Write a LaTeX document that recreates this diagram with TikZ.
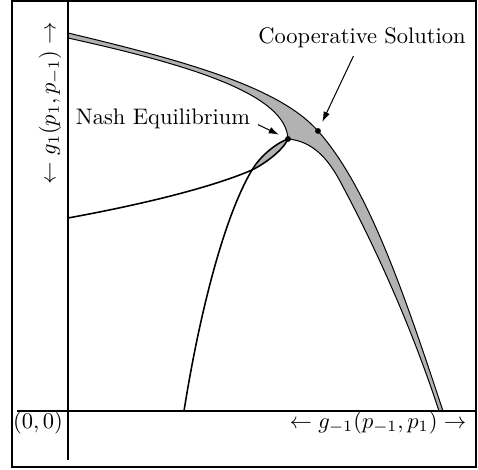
\documentclass[tikz,border=0pt]{standalone}
\usetikzlibrary{arrows.meta}
\begin{document}
\begin{tikzpicture}[x=0.445pt,y=-0.445pt,
      ax/.style={line width=1.3pt},
      crv/.style={line width=0.7pt},
      bnd/.style={line width=0.45pt},
      dot/.style={circle, fill=black, inner sep=0pt, minimum size=2.6pt},
      arr/.style={-{Latex[length=4.5pt,width=3pt]}, line width=0.45pt, shorten >=3pt}]
    \useasboundingbox (0,0) rectangle (478,469);
    \draw[line width=0.5pt] (12,1) rectangle (476,467);
    % shaded band and lens
    \fill[black!30] (68,33) .. controls (190,62) and (280,88) .. (318,131)
      .. controls (368,187) and (404,293) .. (443,411) -- (439,411)
      .. controls (406,310) and (364,226) .. (341,183)
      .. controls (328,158) and (312,141) .. (288,139)
      .. controls (286,95) and (195,66) .. (68,38) -- cycle;
    \fill[black!30] (252,170) .. controls (259,158) and (274,144) .. (288,139)
      .. controls (283,150) and (266,163) .. (252,170) -- cycle;
    % band edges
    \draw[bnd] (68,33) .. controls (190,62) and (280,88) .. (318,131)
      .. controls (368,187) and (404,293) .. (443,411);
    \draw[bnd] (68,38) .. controls (195,66) and (286,95) .. (288,139)
      .. controls (312,141) and (328,158) .. (341,183)
      .. controls (364,226) and (406,310) .. (439,411);
    % reaction curves
    \draw[crv] (68,218) .. controls (150,203) and (215,186) .. (252,170)
      .. controls (266,163) and (283,150) .. (288,139);
    \draw[crv] (184,411) .. controls (200,310) and (225,215) .. (252,170)
      .. controls (259,158) and (274,144) .. (288,139);
    % axes
    \coordinate (xl) at (17,411);
    \coordinate (xr) at (477,411);
    \coordinate (yt) at (68,0);
    \coordinate (yb) at (68,460);
    \draw[ax] (xl) -- (xr);
    \draw[ax] (yt) -- (yb);
    \node (org) at (38,423) {$(0,0)$};
    \node (xlab) at (378,423) {$\leftarrow g_{-1}(p_{-1},p_1)\rightarrow$};
    \node[rotate=90] (ylab) at (50,103) {$\leftarrow g_1(p_1,p_{-1})\rightarrow$};
    % solutions
    \node[dot] (ne) at (288,139) {};
    \node[dot] (cs) at (318,131) {};
    \node (nelab) at (163,119) {Nash Equilibrium};
    \node (cslab) at (362,38) {Cooperative Solution};
    \draw[arr] (nelab.base east) -- (ne);
    \draw[arr] (cslab) -- (cs);
  \end{tikzpicture}
\end{document}
